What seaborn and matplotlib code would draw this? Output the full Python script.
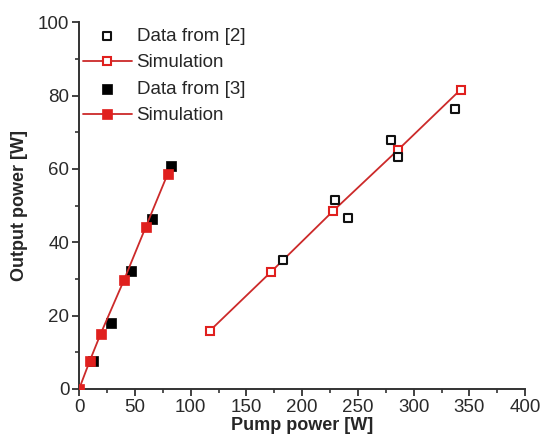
import numpy as np
import pandas as pd
import matplotlib
matplotlib.use('Agg')
import matplotlib.pyplot as plt
from matplotlib.ticker import MultipleLocator
import seaborn as sns

# Data from [2] (open black squares) and its simulation
pump_ref2 = [183, 229, 241, 280, 286, 337]
out_ref2 = [35.2, 51.4, 46.7, 67.8, 63.3, 76.3]
pump_sim2 = [117, 172, 228, 286, 342]
out_sim2 = [15.8, 31.9, 48.6, 65.2, 81.6]

# Data from [3] (filled black squares) and its simulation
pump_ref3 = [12.6, 29.0, 46.6, 65.5, 82.2]
out_ref3 = [7.6, 17.9, 32.2, 46.4, 60.7]
pump_sim3 = [0, 9.6, 19.4, 40.1, 59.8, 79.5]
out_sim3 = [0, 7.7, 15.1, 29.6, 44.2, 58.7]

sns.set_theme(style="ticks")
plt.rcParams['font.family'] = ['Liberation Sans', 'DejaVu Sans']

red = '#e0201e'
line_red = '#cc2a2a'

fig = plt.figure(figsize=(5.42, 4.44), dpi=100)
ax = fig.add_axes([0.146, 0.124, 0.823, 0.826])

sns.scatterplot(x=pump_ref2, y=out_ref2, ax=ax, marker='s', s=28,
                facecolor='white', edgecolor='#111111', linewidth=1.5,
                label='Data from [2]', zorder=3)
sns.lineplot(x=pump_sim2, y=out_sim2, ax=ax, sort=False, color=line_red,
             linewidth=1.3, marker='s', markersize=5.5, markerfacecolor='white',
             markeredgecolor=red, markeredgewidth=1.5, label='Simulation', zorder=2)
sns.scatterplot(x=pump_ref3, y=out_ref3, ax=ax, marker='s', s=50,
                color='black', edgecolor='black', linewidth=0.5,
                label='Data from [3]', zorder=3)
sns.lineplot(x=pump_sim3, y=out_sim3, ax=ax, sort=False, color=line_red,
             linewidth=1.3, marker='s', markersize=7, markerfacecolor=red,
             markeredgecolor=red, markeredgewidth=0.5, label='Simulation', zorder=4)

ax.set_xlim(0, 400)
ax.set_ylim(0, 100)
ax.xaxis.set_major_locator(MultipleLocator(50))
ax.xaxis.set_minor_locator(MultipleLocator(25))
ax.yaxis.set_major_locator(MultipleLocator(20))
ax.yaxis.set_minor_locator(MultipleLocator(10))

for side in ['top', 'right']:
    ax.spines[side].set_visible(False)
for side in ['left', 'bottom']:
    ax.spines[side].set_linewidth(1.4)
    ax.spines[side].set_color('#333333')
ax.tick_params(which='major', length=5, width=1.3, color='#333333',
               labelsize=13.5, pad=2, labelcolor='#2a2a2a')
ax.tick_params(which='minor', length=3, width=1.2, color='#333333')

ax.set_xlabel('Pump power [W]', fontsize=13, fontweight='bold', labelpad=1)
ax.set_ylabel('Output power [W]', fontsize=13, fontweight='bold', labelpad=7)

ax.legend(loc='upper left', bbox_to_anchor=(-0.008, 1.005), frameon=False,
          fontsize=13.5, handlelength=2.6, handletextpad=0.25, labelspacing=0.5,
          borderaxespad=0)

fig.savefig('out.png', dpi=100)
